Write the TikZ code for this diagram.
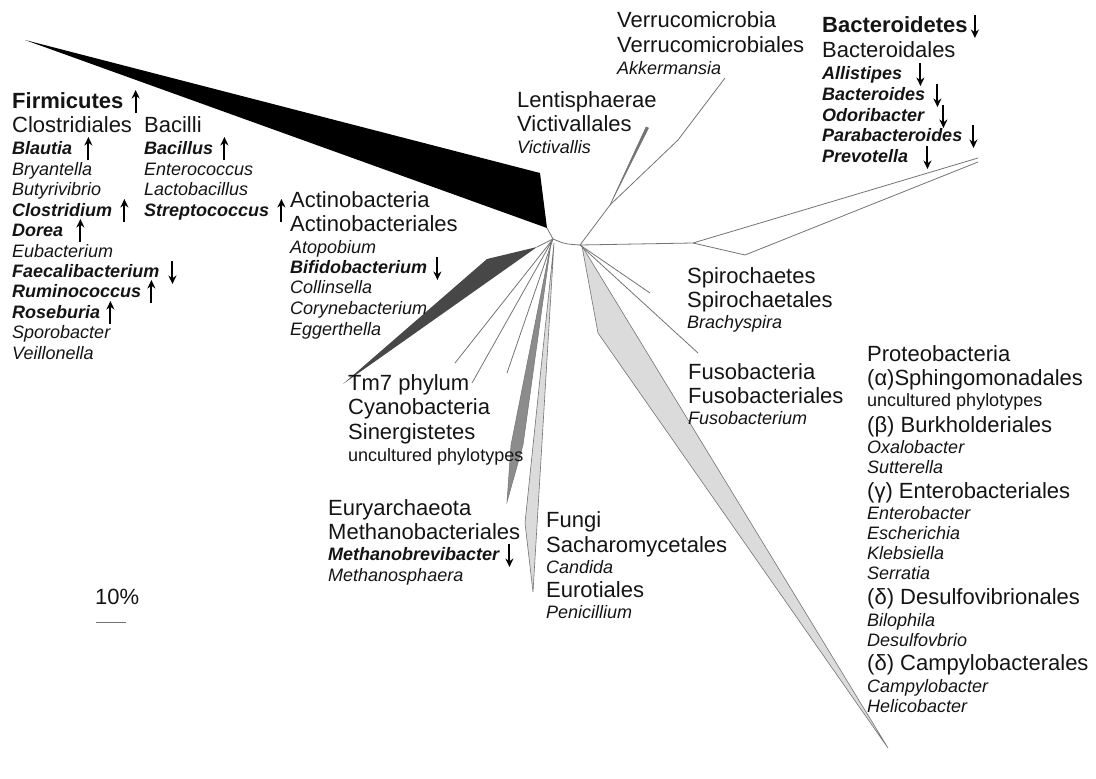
\documentclass[tikz,border=0pt]{standalone}
\usepackage{fontspec}
\setmainfont{Liberation Sans}
\usetikzlibrary{arrows.meta}

\definecolor{wedgedark}{gray}{0.28}
\definecolor{wedgemid}{gray}{0.55}
\definecolor{wedgelight}{gray}{0.86}
\definecolor{branchgray}{gray}{0.45}
\definecolor{inkgray}{gray}{0.08}

\tikzset{
  big/.style={anchor=west, inner sep=0pt, text=inkgray, font=\fontsize{22}{24}\selectfont, text height=15.8pt, text depth=0pt},
  phylum/.style={big, font=\fontsize{22}{24}\selectfont\bfseries},
  genus/.style={anchor=west, inner sep=0pt, text=inkgray, font=\fontsize{18}{20}\selectfont\itshape, text height=12.9pt, text depth=0pt},
  keygenus/.style={genus, font=\fontsize{18}{20}\selectfont\bfseries\itshape},
  plain/.style={genus, font=\fontsize{18}{20}\selectfont},
  branch/.style={draw=branchgray, line width=0.8pt},
  trend/.style={line width=2pt, -{Stealth[length=8.5pt,width=8pt]}},
}

\newcommand{\trendup}[2]{\draw[trend] ([xshift=#2pt,yshift=-12pt]#1.east) -- ++(0,-23);}
\newcommand{\trenddown}[2]{\draw[trend] ([xshift=#2pt,yshift=10pt]#1.east) -- ++(0,23);}

\begin{document}
\begin{tikzpicture}[x=1pt,y=-1pt]
\useasboundingbox (0,0) rectangle (1096,779);

% tree
\coordinate (hubL) at (553,239);
\coordinate (hubR) at (580,245);
\coordinate (splitV) at (610,205);
\coordinate (splitB) at (693,243);
\draw[branch] (hubL) .. controls (565,244) .. (hubR);

\fill[black] (25,40) -- (540,173) -- (547,228) -- cycle;
\draw[branch] (547,228) -- (hubL);
\fill[wedgedark] (343,384) -- (487,259) -- (537,247) -- cycle;
\draw[branch] (537,247) -- (hubL);
\draw[branch] (hubL) -- (455,363);
\draw[branch] (hubL) -- (472,383);
\draw[branch] (hubL) -- (507,373);
\filldraw[fill=wedgemid, draw=branchgray, line width=0.5pt] (551,243) -- (523,445) -- (507,502) -- (511,445) -- cycle;
\filldraw[fill=wedgelight, draw=branchgray, line width=0.6pt] (554,243) -- (525,523) -- (533,592) -- cycle;

\draw[branch] (hubR) -- (splitV);
\filldraw[fill=branchgray, draw=branchgray, line width=0.5pt] (splitV) -- (646,127) -- (648.5,128) -- cycle;
\draw[branch] (splitV) -- (678,140) -- (725,78);
\draw[branch] (hubR) -- (splitB) -- (978,158);
\draw[branch] (splitB) -- (745,255) -- (978,162);
\draw[branch] (hubR) -- (650,293);
\draw[branch] (hubR) -- (698,353);
\filldraw[fill=wedgelight, draw=branchgray, line width=0.6pt] (582,246) -- (598,333) -- (888,748) -- cycle;

% Firmicutes
\node[phylum] (firmicutes) at (12,101) {Firmicutes};
\node[big] (clostridiales) at (12,125) {Clostridiales};
\node[big] (bacilli) at (144,125) {Bacilli};
\node[keygenus] (blautia) at (12,148) {Blautia};
\node[genus] (bryantella) at (12,169) {Bryantella};
\node[genus] (butyrivibrio) at (12,189) {Butyrivibrio};
\node[keygenus] (clostridium) at (12,210) {Clostridium};
\node[keygenus] (dorea) at (12,230) {Dorea};
\node[genus] (eubacterium) at (12,251) {Eubacterium};
\node[keygenus] (faecali) at (12,271) {Faecalibacterium};
\node[keygenus] (rumino) at (12,291) {Ruminococcus};
\node[keygenus] (roseburia) at (12,312) {Roseburia};
\node[genus] (sporobacter) at (12,332) {Sporobacter};
\node[genus] (veillonella) at (12,353) {Veillonella};
\node[keygenus] (bacillus) at (144,148) {Bacillus};
\node[genus] (enterococcus) at (144,169) {Enterococcus};
\node[genus] (lactobacillus) at (144,189) {Lactobacillus};
\node[keygenus] (strepto) at (144,210) {Streptococcus};
\trendup{firmicutes}{12}
\trendup{blautia}{16}
\trendup{clostridium}{12}
\trendup{dorea}{17}
\trenddown{faecali}{13}
\trendup{rumino}{10}
\trendup{roseburia}{10}
\trendup{bacillus}{11}
\trendup{strepto}{12}

% Actinobacteria
\node[big] (actino) at (290,200) {Actinobacteria};
\node[big] (actinoales) at (290,224) {Actinobacteriales};
\node[genus] (atopobium) at (290,247) {Atopobium};
\node[keygenus] (bifido) at (290,267) {Bifidobacterium};
\node[genus] (collinsella) at (290,287) {Collinsella};
\node[genus] (coryne) at (290,308) {Corynebacterium};
\node[genus] (eggerthella) at (290,329) {Eggerthella};
\trenddown{bifido}{10}

% Lentisphaerae, Verrucomicrobia
\node[big] (lenti) at (517,100) {Lentisphaerae};
\node[big] (victivallales) at (517,124) {Victivallales};
\node[genus] (victivallis) at (517,147) {Victivallis};
\node[big] (verruco) at (617,20) {Verrucomicrobia};
\node[big] (verrucoales) at (617,45) {Verrucomicrobiales};
\node[genus] (akkermansia) at (617,68) {Akkermansia};

% Bacteroidetes
\node[phylum] (bacteroidetes) at (822,25) {Bacteroidetes};
\node[big] (bacteroidales) at (822,50) {Bacteroidales};
\node[keygenus] (allistipes) at (822,73) {Allistipes};
\node[keygenus] (bacteroides) at (822,94) {Bacteroides};
\node[keygenus] (odoribacter) at (822,115) {Odoribacter};
\node[keygenus] (parabact) at (822,135) {Parabacteroides};
\node[keygenus] (prevotella) at (822,156) {Prevotella};
\trenddown{bacteroidetes}{7}
\trenddown{allistipes}{18}
\trenddown{bacteroides}{12}
\trenddown{odoribacter}{19}
\trenddown{parabact}{11}
\trenddown{prevotella}{19}

% Spirochaetes, Fusobacteria
\node[big] (spiro) at (687,276) {Spirochaetes};
\node[big] (spiroales) at (687,300) {Spirochaetales};
\node[genus] (brachyspira) at (687,322) {Brachyspira};
\node[big] (fuso) at (688,372) {Fusobacteria};
\node[big] (fusoales) at (688,396) {Fusobacteriales};
\node[genus] (fusobacterium) at (688,418) {Fusobacterium};

% Tm7 and others
\node[big] (tm7) at (348,383) {Tm7 phylum};
\node[big] (cyano) at (348,407) {Cyanobacteria};
\node[big] (sinergistetes) at (348,432) {Sinergistetes};
\node[plain] (uncultA) at (348,455) {uncultured phylotypes};

% Euryarchaeota
\node[big] (eury) at (328,508) {Euryarchaeota};
\node[big] (methanoales) at (328,532) {Methanobacteriales};
\node[keygenus] (methanobrevi) at (328,554) {Methanobrevibacter};
\node[genus] (methanosphaera) at (328,575) {Methanosphaera};
\trenddown{methanobrevi}{10}

% Fungi
\node[big] (fungi) at (546,520) {Fungi};
\node[big] (sacharo) at (546,545) {Sacharomycetales};
\node[genus] (candida) at (546,567) {Candida};
\node[big] (eurotiales) at (546,590) {Eurotiales};
\node[genus] (penicillium) at (546,612) {Penicillium};

% Proteobacteria
\node[big] (proteo) at (867,354) {Proteobacteria};
\node[big] (sphingo) at (867,378) {(α)Sphingomonadales};
\node[plain] (uncultB) at (867,400) {uncultured phylotypes};
\node[big] (burkhold) at (867,425) {(β) Burkholderiales};
\node[genus] (oxalobacter) at (867,447) {Oxalobacter};
\node[genus] (sutterella) at (867,467) {Sutterella};
\node[big] (entero) at (867,491) {(γ) Enterobacteriales};
\node[genus] (enterobacter) at (867,513) {Enterobacter};
\node[genus] (escherichia) at (867,533) {Escherichia};
\node[genus] (klebsiella) at (867,553) {Klebsiella};
\node[genus] (serratia) at (867,573) {Serratia};
\node[big] (desulfo) at (867,597) {(δ) Desulfovibrionales};
\node[genus] (bilophila) at (867,620) {Bilophila};
\node[genus] (desulfovbrio) at (867,640) {Desulfovbrio};
\node[big] (campylo) at (867,663) {(δ) Campylobacterales};
\node[genus] (campylobacter) at (867,686) {Campylobacter};
\node[genus] (helicobacter) at (867,706) {Helicobacter};

% scale
\node[big] (scalelbl) at (95,597) {10\%};
\draw[branch] (96,622) -- (126,622);
\end{tikzpicture}
\end{document}
